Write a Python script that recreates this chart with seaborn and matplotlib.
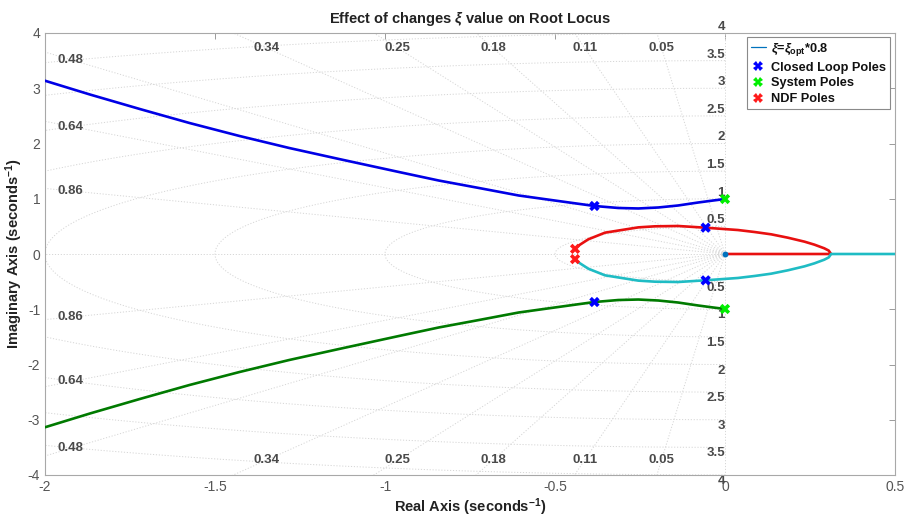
import numpy as np
import pandas as pd
import matplotlib
matplotlib.use("Agg")
import matplotlib.pyplot as plt
import seaborn as sns
from matplotlib.lines import Line2D

# ---------------- data ----------------
# upper complex branch (blue); lower branch (green) is its conjugate
branch_x = [-2.0, -1.868, -1.721, -1.575, -1.428, -1.282, -1.135, -0.959, -0.842, -0.724,
            -0.607, -0.490, -0.384, -0.314, -0.255, -0.196, -0.138, -0.079, -0.035, 0.0]
branch_y = [3.136, 2.887, 2.624, 2.371, 2.136, 1.919, 1.719, 1.484, 1.330, 1.195,
            1.059, 0.959, 0.869, 0.833, 0.824, 0.842, 0.878, 0.932, 0.968, 0.995]
# upper half of the oval (red); lower half (cyan) is its conjugate
oval_x = [-0.441, -0.431, -0.402, -0.353, -0.255, -0.206, -0.138, -0.060, 0.038, 0.087,
          0.136, 0.185, 0.234, 0.263, 0.292, 0.305, 0.312]
oval_y = [0.093, 0.151, 0.266, 0.386, 0.482, 0.501, 0.507, 0.477, 0.434, 0.398,
          0.356, 0.295, 0.223, 0.169, 0.103, 0.062, 0.0]
red_axis_x = [0.312, 0.0]
cyan_axis_x = [0.312, 0.5]
closed_loop_x = [-0.384, -0.057]
closed_loop_y = [0.869, 0.477]
system_x = [0.0]
system_y = [0.995]
ndf_x = [-0.441]
ndf_y = [0.093]
origin_x = [0.0]
origin_y = [0.0]
damping = [0.05, 0.11, 0.18, 0.25, 0.34, 0.48, 0.64, 0.86]
wn = [0.5, 1.0, 1.5, 2.0, 2.5, 3.0, 3.5, 4.0]
xticks = [-2, -1.5, -1, -0.5, 0, 0.5]
yticks = [-4, -3, -2, -1, 0, 1, 2, 3, 4]

legend_labels = [r"$\xi$=$\xi_{\mathbf{opt}}$*0.8", "Closed Loop Poles", "System Poles", "NDF Poles"]

# ---------------- style ----------------
sns.set_theme(style="white")
plt.rcParams["font.family"] = ["Liberation Sans", "DejaVu Sans"]
plt.rcParams["mathtext.fontset"] = "custom"
plt.rcParams["mathtext.rm"] = "Liberation Sans:bold"
plt.rcParams["mathtext.it"] = "Liberation Sans:italic:bold"
plt.rcParams["mathtext.bf"] = "Liberation Sans:bold"

C_BLUE = "#0000e6"
C_GREEN = "#007a00"
C_RED = "#e81010"
C_CYAN = "#1fbcc4"
C_MBLUE = "#0072BD"
GRID_C = "#d6d6d6"
TXT_C = "#4a4a4a"

fig = plt.figure(figsize=(9.09, 5.21), dpi=100)
ax = fig.add_axes([45 / 909, 1 - 475 / 521, 850 / 909, 442 / 521])

# ---------------- sgrid ----------------
gkw = dict(ls=(0, (1.2, 1.8)), color=GRID_C, lw=0.7, zorder=1)
r = np.linspace(0, 10, 50)
for z in damping:
    s = np.sqrt(1 - z ** 2)
    for sign in (1, -1):
        ax.plot(-r * z, sign * r * s, **gkw)
th = np.linspace(np.pi / 2, 3 * np.pi / 2, 400)
for w in wn:
    ax.plot(w * np.cos(th), w * np.sin(th), **gkw)
ax.plot([-10, 0], [0, 0], **gkw)
ax.plot([0, 0], [-10, 10], **gkw)

# damping labels
for z in damping:
    slope = np.sqrt(1 - z ** 2) / z
    y_left = 1.92 * slope
    if y_left < 3.72:
        lx, ly = -1.962, y_left
        ha = "left"
    else:
        lx, ly = -3.73 / slope, 3.73
        ha = "center"
    for sign in (1, -1):
        ax.text(lx, sign * ly, f"{z:.2f}", ha=ha, va="center", fontsize=9.5,
                fontweight="bold", color=TXT_C, zorder=2)
# natural frequency labels
for w in wn:
    lab = f"{w:g}"
    ax.text(0, w, lab, ha="right", va="bottom", fontsize=9.5, fontweight="bold",
            color=TXT_C, clip_on=False, zorder=2)
    ax.text(0, -w, lab, ha="right", va="top", fontsize=9.5, fontweight="bold",
            color=TXT_C, clip_on=False, zorder=2)

# ---------------- locus branches ----------------
bx = np.array(branch_x); by = np.array(branch_y)
ox = np.array(oval_x); oy = np.array(oval_y)
branches = pd.concat([
    pd.DataFrame({"x": bx, "y": by, "b": "blue"}),
    pd.DataFrame({"x": bx, "y": -by, "b": "green"}),
    pd.DataFrame({"x": np.r_[ox, red_axis_x], "y": np.r_[oy, np.zeros(len(red_axis_x))], "b": "red"}),
    pd.DataFrame({"x": np.r_[ox, cyan_axis_x], "y": np.r_[-oy, np.zeros(len(cyan_axis_x))], "b": "cyan"}),
], ignore_index=True)
sns.lineplot(data=branches, x="x", y="y", hue="b", sort=False, estimator=None,
             palette={"blue": C_BLUE, "green": C_GREEN, "red": C_RED, "cyan": C_CYAN},
             lw=1.9, legend=False, ax=ax, zorder=3)
for l in ax.lines[-4:]:
    l.set_solid_joinstyle("round")

# poles
poles = pd.concat([
    pd.DataFrame({"x": closed_loop_x + closed_loop_x, "y": closed_loop_y + [-v for v in closed_loop_y], "k": "cl"}),
    pd.DataFrame({"x": system_x + system_x, "y": system_y + [-v for v in system_y], "k": "sys"}),
    pd.DataFrame({"x": ndf_x + ndf_x, "y": ndf_y + [-v for v in ndf_y], "k": "ndf"}),
], ignore_index=True)
sns.scatterplot(data=poles, x="x", y="y", hue="k", marker="X", s=55, linewidth=0,
                palette={"cl": "#0000ff", "sys": "#00ee00", "ndf": "#ff1a1a"},
                legend=False, ax=ax, zorder=5)
sns.scatterplot(x=origin_x, y=origin_y, color=C_MBLUE, s=18, linewidth=0, ax=ax, zorder=6)

# ---------------- axes ----------------
ax.set_xlim(-2, 0.5)
ax.set_ylim(-4, 4)
ax.set_xticks(xticks)
ax.set_xticklabels([f"{t:g}" for t in xticks])
ax.set_yticks(yticks)
ax.set_yticklabels([f"{t:g}" for t in yticks])
ax.tick_params(direction="in", length=4, width=0.6, colors="#8a8a8a", labelcolor="#555555",
               labelsize=10, top=True, right=True)
for sp in ax.spines.values():
    sp.set_color("#a8a8a8")
    sp.set_linewidth(0.8)

ax.set_title(r"Effect of changes $\xi$ value on Root Locus", fontsize=10.5, fontweight="bold",
             color="#222222", pad=7)
ax.set_xlabel(r"Real Axis (seconds$^{\mathbf{-1}}$)", fontsize=10.5, fontweight="bold",
              color="#222222", labelpad=2)
ax.set_ylabel(r"Imaginary Axis (seconds$^{\mathbf{-1}}$)", fontsize=10.5, fontweight="bold",
              color="#222222", labelpad=2)

handles = [
    Line2D([], [], color=C_MBLUE, lw=0.9),
    Line2D([], [], ls="none", marker="X", color="#0000ff", ms=6.5, mew=0),
    Line2D([], [], ls="none", marker="X", color="#00ee00", ms=6.5, mew=0),
    Line2D([], [], ls="none", marker="X", color="#ff1a1a", ms=6.5, mew=0),
]
leg = ax.legend(handles, legend_labels, loc="upper right", bbox_to_anchor=(0.994, 0.991),
                fontsize=9.2, frameon=True, fancybox=False, framealpha=1, edgecolor="#8a8a8a",
                handlelength=1.2, handletextpad=0.4, borderpad=0.3, labelspacing=0.3,
                borderaxespad=0)
leg.get_frame().set_linewidth(0.8)
for t in leg.get_texts():
    t.set_fontweight("bold")
    t.set_color("#111111")

fig.savefig("out.png", dpi=100)
